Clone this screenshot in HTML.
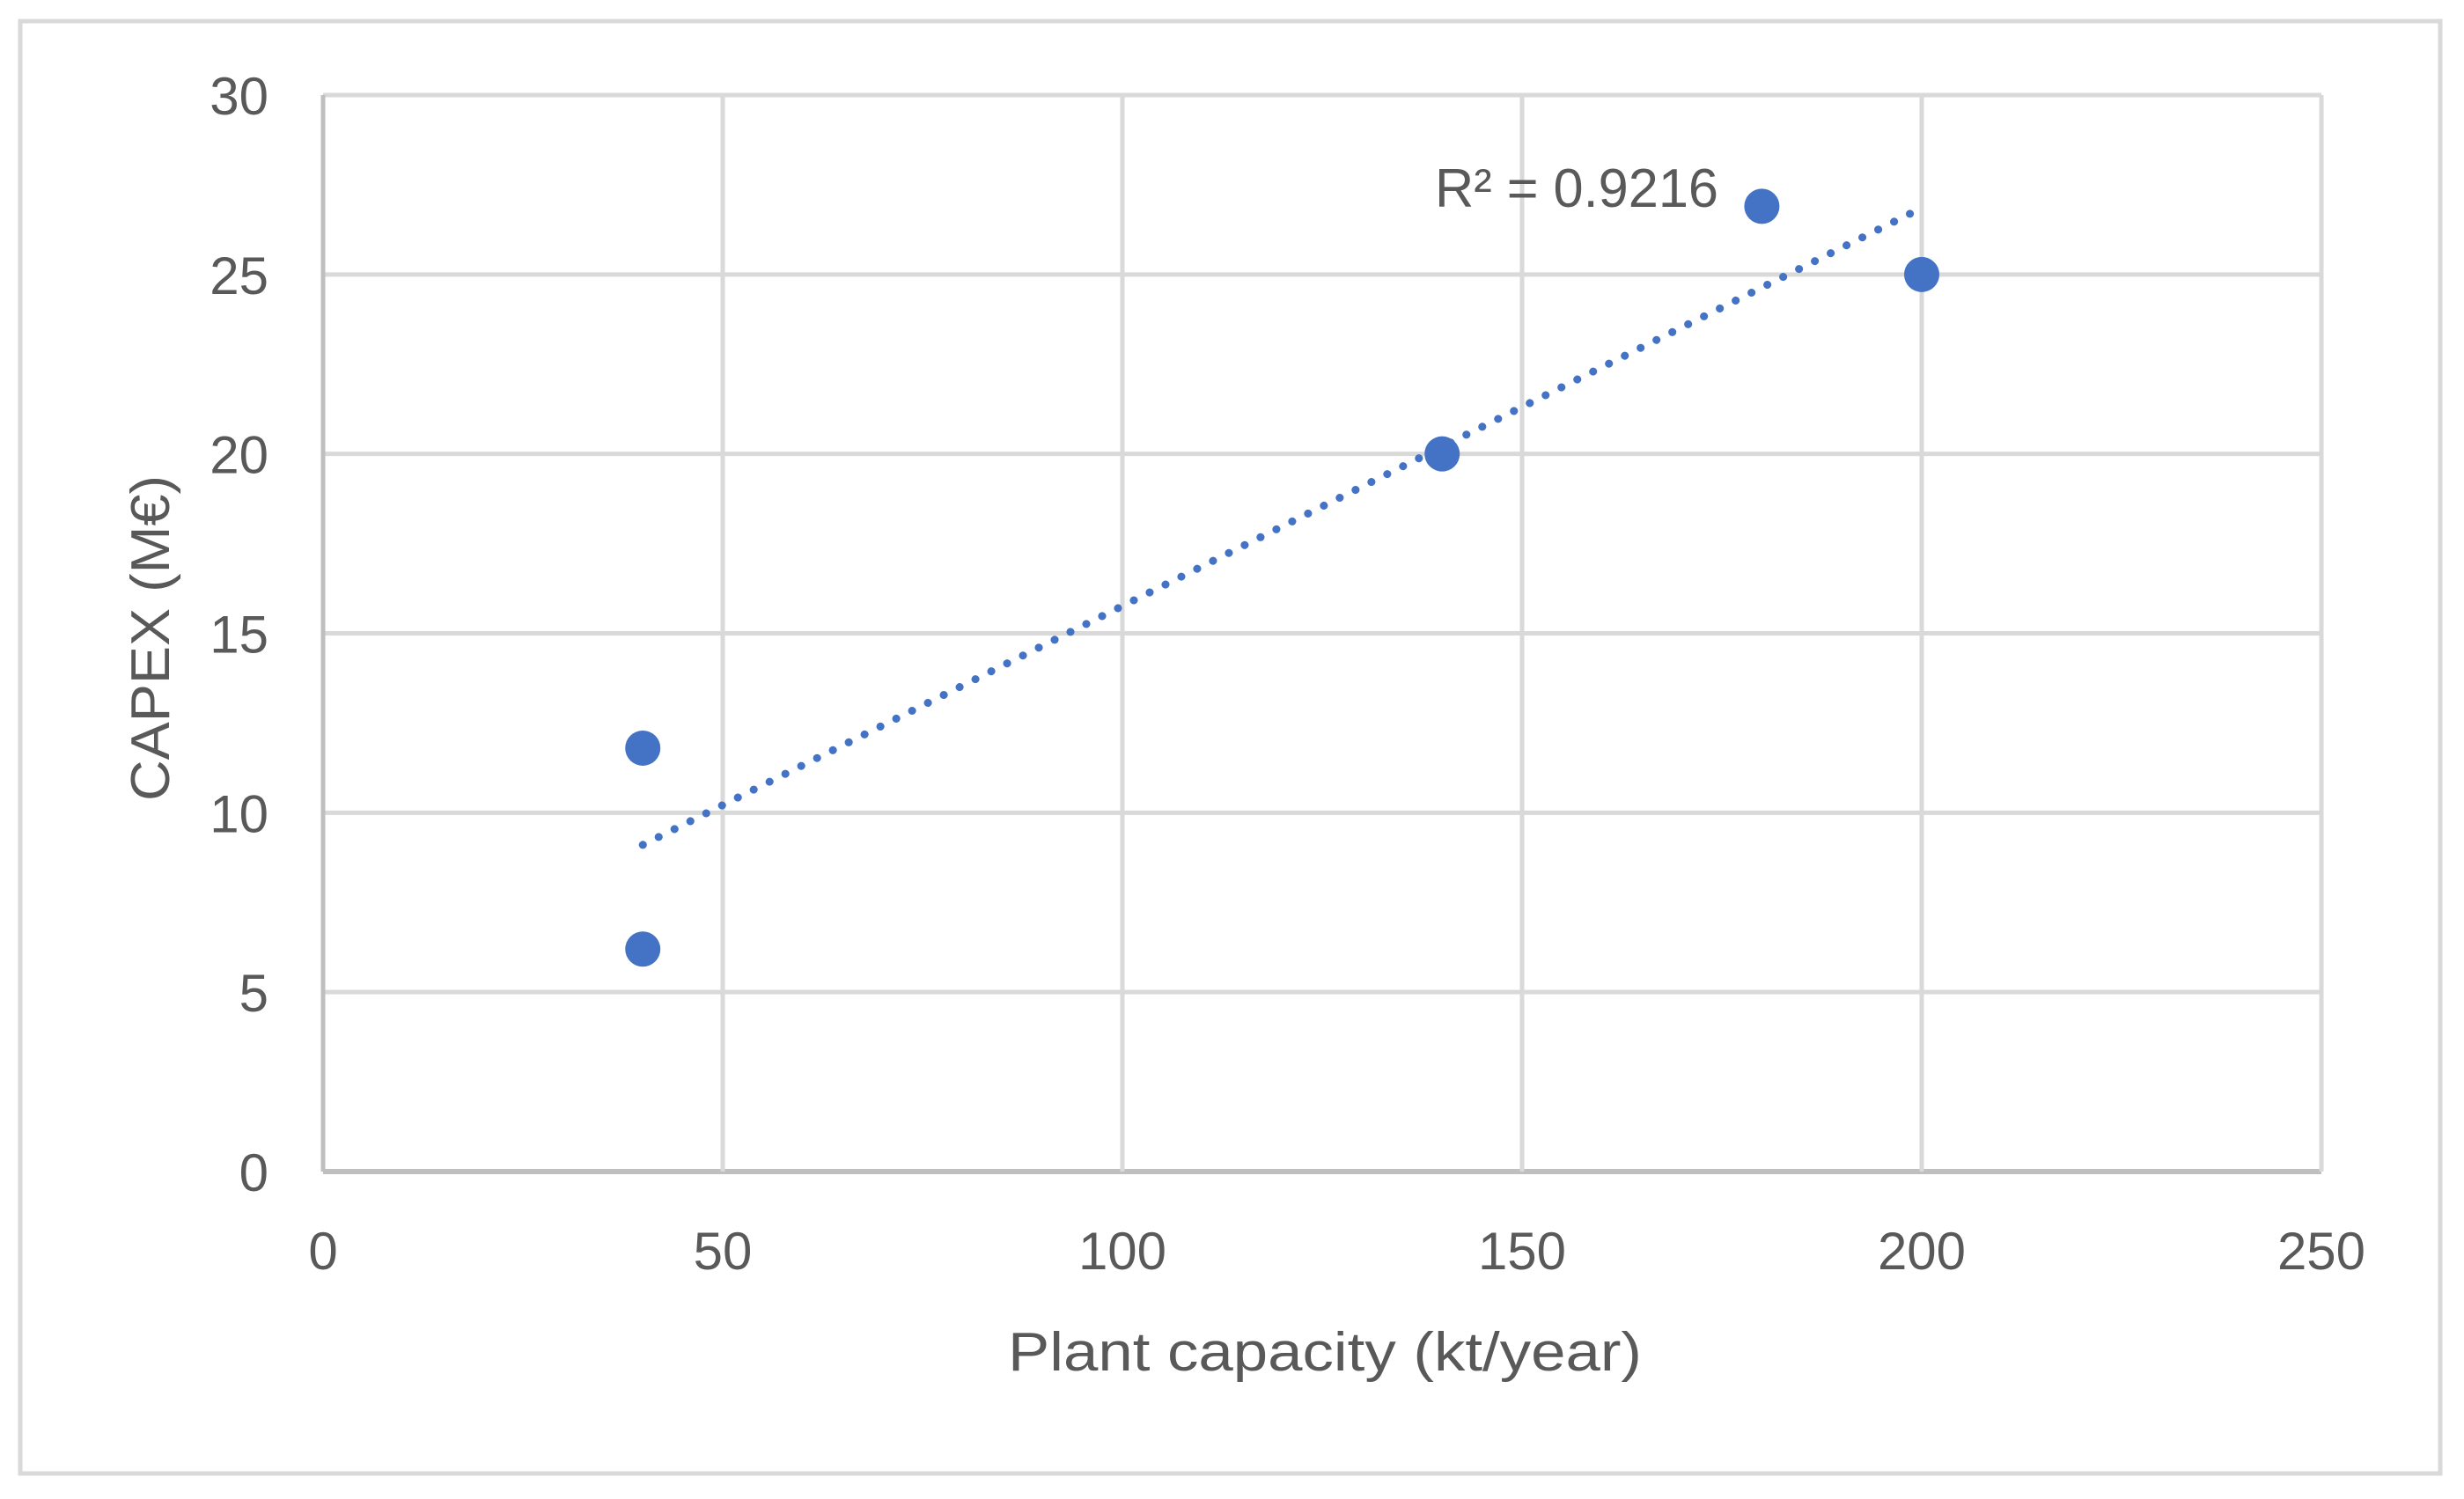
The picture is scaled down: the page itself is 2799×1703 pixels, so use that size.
<!DOCTYPE html>
<html><head><meta charset="utf-8"><style>
html,body{margin:0;padding:0;background:#fff;}
svg{display:block;font-family:"Liberation Sans",sans-serif;}
</style></head><body>
<svg width="2799" height="1703" viewBox="0 0 2799 1703" xmlns="http://www.w3.org/2000/svg">
<rect x="23" y="24" width="2749" height="1650" fill="#fff" stroke="#d9d9d9" stroke-width="5"/>
<g id="grid"></g>
<g id="ticks"></g>
<g id="trend"></g>
<g id="pts"></g>
<text x="1505" y="1557" font-size="62" fill="#595959" text-anchor="middle" textLength="720" lengthAdjust="spacingAndGlyphs">Plant capacity (kt/year)</text>
<text transform="translate(192,725) rotate(-90)" font-size="62" fill="#595959" text-anchor="middle" textLength="370" lengthAdjust="spacingAndGlyphs">CAPEX (M€)</text>
<text x="1630" y="235" font-size="62" fill="#595959" textLength="322" lengthAdjust="spacingAndGlyphs">R² = 0.9216</text>
</svg>
<script>
const xTicks=[0,50,100,150,200,250];
const yTicks=[0,5,10,15,20,25,30];
const xValues=[40,40,140,180,200];
const yValues=[11.8,6.2,20,26.9,25];
const NS="http://www.w3.org/2000/svg";
const L=367,R=2637,T=108,B=1331;
const sx=v=>L+(v-0)/(250-0)*(R-L);
const sy=v=>B-(v-0)/(30-0)*(B-T);
function mk(tag,attrs,parent){const e=document.createElementNS(NS,tag);for(const k in attrs)e.setAttribute(k,attrs[k]);parent.appendChild(e);return e;}
const grid=document.getElementById('grid'),ticks=document.getElementById('ticks');
yTicks.forEach(v=>{
 const l=mk('line',{x1:L,x2:R,y1:sy(v),y2:sy(v),stroke:v===0?'#bfbfbf':'#d9d9d9','stroke-width':v===0?6:5},grid);
 
 
 const t=mk('text',{x:305,y:sy(v)+22,'font-size':60,fill:'#595959','text-anchor':'end'},ticks);
 t.textContent=v;
 
 
});
xTicks.forEach(v=>{
 const l=mk('line',{x1:sx(v),x2:sx(v),y1:T,y2:B,stroke:v===0?'#bfbfbf':'#d9d9d9','stroke-width':5},grid);
 
 
 const t=mk('text',{x:sx(v),y:1442,'font-size':60,fill:'#595959','text-anchor':'middle'},ticks);
 t.textContent=v;
 
 
});
const n=xValues.length;
const mx=xValues.reduce((a,b)=>a+b,0)/n,my=yValues.reduce((a,b)=>a+b,0)/n;
let sxy=0,sxx=0;for(let i=0;i<n;i++){sxy+=(xValues[i]-mx)*(yValues[i]-my);sxx+=(xValues[i]-mx)**2;}
const slope=sxy/sxx,icpt=my-slope*mx;
const x0=Math.min(...xValues),x1=Math.max(...xValues);
const tl=mk('line',{x1:sx(x0),y1:sy(icpt+slope*x0),x2:sx(x1),y2:sy(icpt+slope*x1),stroke:'#4472C4','stroke-width':9,'stroke-dasharray':'0.1 20','stroke-linecap':'round'},document.getElementById('trend'));


const pts=document.getElementById('pts');
xValues.forEach((x,i)=>{
 const c=mk('circle',{cx:sx(x),cy:sy(yValues[i]),r:20,fill:'#4472C4'},pts);
 
 
});
</script>
</body></html>
